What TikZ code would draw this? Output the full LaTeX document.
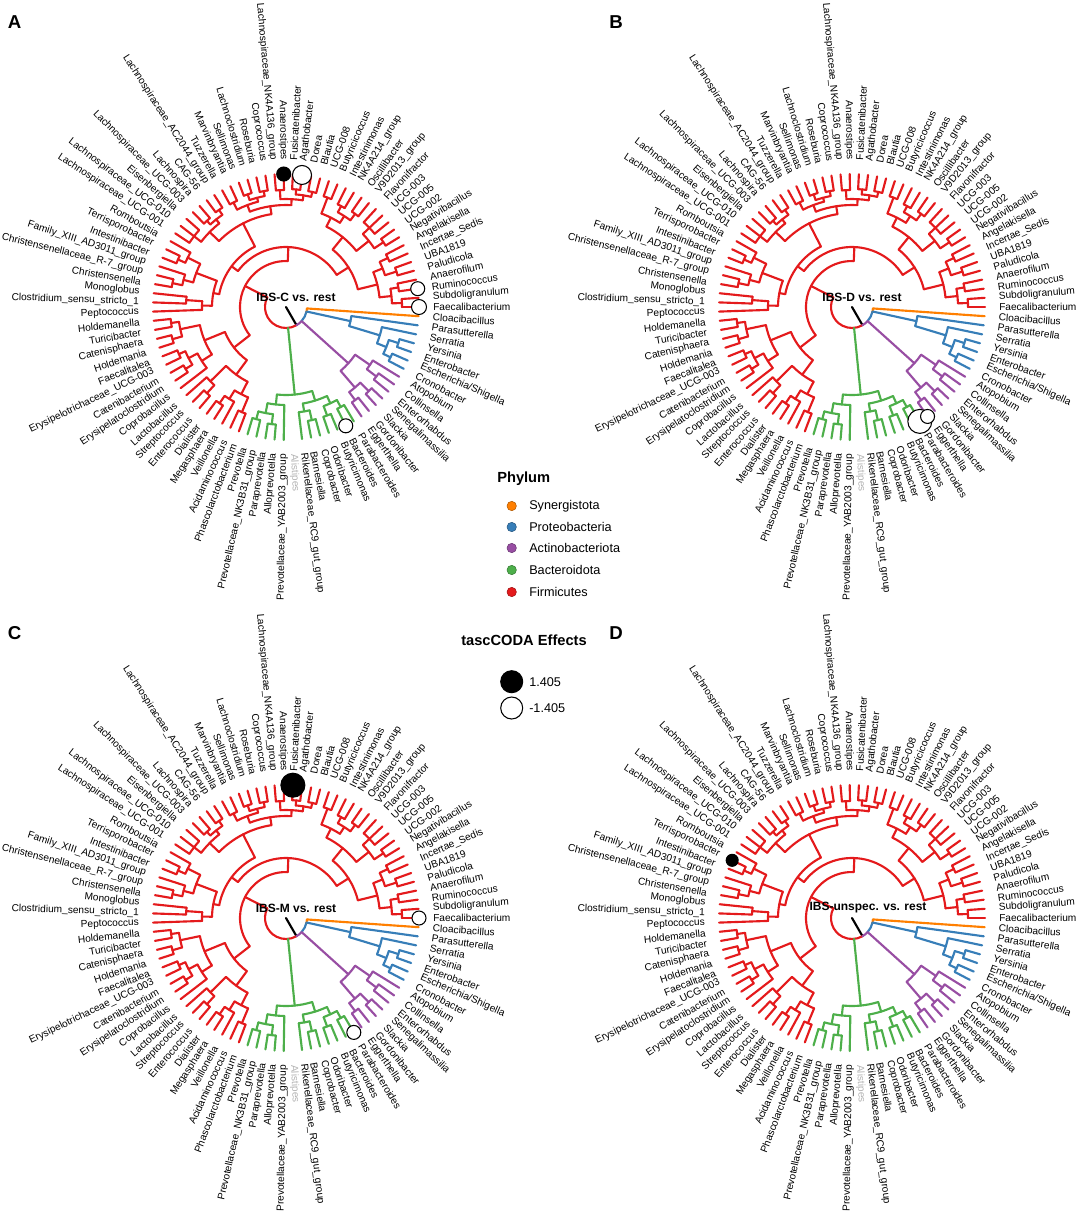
\documentclass[tikz,border=0pt]{standalone}
\usepackage{fontspec}
\setmainfont{Liberation Sans}
\definecolor{firmi}{HTML}{E41A1C}
\definecolor{bacte}{HTML}{4DAF4A}
\definecolor{actino}{HTML}{984EA3}
\definecolor{proteo}{HTML}{377EB8}
\definecolor{synerg}{HTML}{FF7F00}
\definecolor{nagrey}{HTML}{B3B3B3}
\tikzset{
  branch/.style={line width=1.6pt, line cap=round},
  leaflab/.style={font=\fontsize{7.6}{9}\selectfont, inner sep=0pt},
  centlab/.style={font=\bfseries\fontsize{9}{11}\selectfont, inner sep=0pt},
  paneltag/.style={font=\bfseries\fontsize{14}{16}\selectfont, inner sep=0pt},
  legtitle/.style={font=\bfseries\fontsize{11}{13}\selectfont, anchor=west, inner sep=0pt},
  legtext/.style={font=\fontsize{9.5}{11}\selectfont, anchor=west, inner sep=0pt},
  effpos/.style={draw=black, fill=black, line width=0.8pt},
  effneg/.style={draw=black, fill=white, line width=0.8pt}
}
% angle of one leaf
\newcommand{\dk}{3.956044}
% clade: colour, parent radius, node radius, first child, last child
\newcommand{\clade}[5]{%
  \draw[#1] ({(#4+#5)/2*\dk}:#2) -- ({(#4+#5)/2*\dk}:#3);
  \draw[#1] ({#4*\dk}:#3) arc[start angle={#4*\dk}, end angle={#5*\dk}, radius=#3];}
% leaf branch: colour, parent radius, leaf
\newcommand{\tip}[3]{\draw[#1] ({#3*\dk}:#2) -- ({#3*\dk}:133);}
% effect circle: style, leaf, size
\newcommand{\eff}[3]{\draw[#1] ({#2*\dk}:133) circle[radius=#3];}
\newcommand{\taxtree}[1]{%
  \begin{scope}[branch]
  % root
  \draw[black] (0,0) -- (300:21);
  \draw[firmi] ({38.640625*\dk}:21) arc[start angle={38.640625*\dk}, end angle=300, radius=21];
  \draw[actino] (300:21) arc[start angle=300, end angle={80.375*\dk}, radius=21];
  \draw[proteo] ({80.375*\dk}:21) arc[start angle={80.375*\dk}, end angle={87.875*\dk}, radius=21];
  \draw[synerg] ({87.875*\dk}:21) arc[start angle={87.875*\dk}, end angle={90*\dk}, radius=21];
  % Firmicutes
  \foreach \p/\n/\a/\b in {21/46/22.1875/55.09375, 46/60/8.1875/36.1875, 60/74/3.5/12.875,
      74/94/1.5/5.5, 94/106/0.5/2.5, 106/116/0/1, 106/114/2/3, 94/104/4.5/6.5, 104/116/4/5, 104/113/6/7,
      74/90/9.75/16, 90/106/8.5/11, 106/117/8/9, 106/115/10/12, 90/100/14.5/17.5, 100/108/13.5/15.5,
      108/116/13/14, 108/115/15/16, 100/117/17/18,
      60/68/29.625/42.75, 68/94/25/34.25, 94/102/22/28, 102/108/20.5/23.5, 108/113/19.5/21.5,
      113/118/19/20, 113/118/21/22, 108/117/23/24, 102/109/26.5/29.5, 109/113/25.5/27.5,
      113/118/25/26, 113/119/27/28, 109/117/29/30, 94/107/32.5/36, 107/112/31.5/33.5,
      112/118/31/32, 112/117/33/34, 107/116/35/37,
      68/74/40.25/45.25, 74/96/38.75/41.75, 96/110/38/39.5, 110/118/39/40, 96/106/41/42.5,
      106/116/42/43, 74/84/44.5/46, 84/100/44/45,
      46/66/51.125/59.0625, 66/88/48.5/53.75, 88/108/47.5/49.5, 108/116/47/48, 108/118/49/50,
      88/100/52.5/55, 100/110/51.5/53.5, 110/117/51/52, 110/118/53/54,
      66/84/56.75/61.375, 84/106/56/57.5, 106/117/57/58, 84/98/60.25/62.5, 98/108/59.5/61,
      108/117/59/60, 98/114/62/63}{\clade{firmi}{\p}{\n}{\a}{\b}}
  \foreach \k/\p in {0/116,1/116,2/114,3/114,4/116,5/116,6/113,7/113,8/117,9/117,10/115,11/115,
      12/115,13/116,14/116,15/115,16/115,17/117,18/117,19/118,20/118,21/118,22/118,23/117,24/117,
      25/118,26/118,27/119,28/119,29/117,30/117,31/118,32/118,33/117,34/117,35/116,36/116,37/116,
      38/110,39/118,40/118,41/106,42/116,43/116,44/100,45/100,46/84,47/116,48/116,49/118,50/118,
      51/117,52/117,53/118,54/118,55/100,56/106,57/117,58/117,59/117,60/117,61/108,62/114,63/114}{\tip{firmi}{\p}{\k}}
  % Bacteroidota
  \foreach \p/\n/\a/\b in {21/88/66.75/72.625, 88/98/65.5/68, 98/108/64.5/66.5, 108/116/64/65,
      108/118/66/67, 88/98/70.75/74.5, 98/106/70/71.5, 106/116/71/72, 98/106/73.5/75.5,
      106/116/73/74, 106/114/75/76}{\clade{bacte}{\p}{\n}{\a}{\b}}
  \foreach \k/\p in {64/116,65/116,66/118,67/118,68/98,70/106,71/116,72/116,73/116,74/116,
      75/114,76/114}{\tip{bacte}{\p}{\k}}
  % Actinobacteriota
  \foreach \p/\n/\a/\b in {21/84/78.5/82.25, 84/106/77.5/79.5, 106/116/77/78, 106/118/79/80,
      84/102/81.5/83, 102/114/81/82}{\clade{actino}{\p}{\n}{\a}{\b}}
  \foreach \k/\p in {77/116,78/116,79/118,80/118,81/114,82/114,83/102}{\tip{actino}{\p}{\k}}
  % Proteobacteria
  \foreach \p/\n/\a/\b in {21/66/86.75/89, 66/98/85.5/88, 98/108/84.5/86.5, 108/116/84/85,
      108/118/86/87}{\clade{proteo}{\p}{\n}{\a}{\b}}
  \foreach \k/\p in {84/116,85/116,86/118,87/118,88/98,89/66}{\tip{proteo}{\p}{\k}}
  % Synergistota
  \tip{synerg}{21}{90}
  \end{scope}
  % leaf labels
  \foreach \k/\nm in {0/Faecalibacterium, 1/Subdoligranulum, 2/Ruminococcus, 3/Anaerofilum,
      4/Paludicola, 5/UBA1819, 6/Incertae\_Sedis, 7/Angelakisella, 8/Negativibacillus, 9/UCG-002,
      10/UCG-005, 11/UCG-003, 12/Flavonifractor, 13/V9D2013\_group, 14/Oscillibacter,
      15/NK4A214\_group, 16/Intestinimonas, 17/Butyricicoccus, 18/UCG-008, 19/Blautia, 20/Dorea,
      21/Agathobacter, 22/Fusicatenibacter, 23/Anaerostipes, 24/Lachnospiraceae\_NK4A136\_group,
      25/Coprococcus, 26/Roseburia, 27/Lachnoclostridium, 28/Sellimonas, 29/Marvinbryantia,
      30/Tuzzerella, 31/Lachnospiraceae\_AC2044\_group, 32/CAG-56, 33/Lachnospira,
      34/Lachnospiraceae\_UCG-003, 35/Eisenbergiella, 36/Lachnospiraceae\_UCG-010,
      37/Lachnospiraceae\_UCG-001, 38/Romboutsia, 39/Terrisporobacter, 40/Intestinibacter,
      41/Family\_XIII\_AD3011\_group, 42/Christensenellaceae\_R-7\_group, 43/Christensenella,
      44/Monoglobus, 45/Clostridium\_sensu\_stricto\_1, 46/Peptococcus, 47/Holdemanella,
      48/Turicibacter, 49/Catenisphaera, 50/Holdemania, 51/Faecalitalea,
      52/Erysipelotrichaceae\_UCG-003, 53/Catenibacterium, 54/Erysipelatoclostridium,
      55/Coprobacillus, 56/Lactobacillus, 57/Streptococcus, 58/Enterococcus, 59/Dialister,
      60/Megasphaera, 61/Veillonella, 62/Acidaminococcus, 63/Phascolarctobacterium,
      64/Prevotella, 65/Prevotellaceae\_NK3B31\_group, 66/Paraprevotella, 67/Alloprevotella,
      68/Prevotellaceae\_YAB2003\_group, 70/Rikenellaceae\_RC9\_gut\_group, 71/Barnesiella,
      72/Coprobacter, 73/Odoribacter, 74/Butyricimonas, 75/Bacteroides, 76/Parabacteroides,
      77/Eggerthella, 78/Gordonibacter, 79/Slackia, 80/Senegalimassilia, 81/Enterorhabdus,
      82/Collinsella, 83/Atopobium, 84/Cronobacter, 85/Escherichia\slash Shigella,
      86/Enterobacter, 87/Yersinia, 88/Serratia, 89/Parasutterella, 90/Cloacibacillus}{%
    \pgfmathsetmacro\ang{\k*\dk}
    \pgfmathtruncatemacro\flip{and(\ang>90,\ang<270)}
    \ifnum\flip=1
      \node[leaflab, anchor=east, rotate=\ang-180] (#1-\k) at (\ang:147) {\nm};
    \else
      \node[leaflab, anchor=west, rotate=\ang] (#1-\k) at (\ang:147) {\nm};
    \fi}
  \node[leaflab, anchor=west, text=nagrey, rotate=69*\dk] (#1-69) at ({69*\dk}:147) {Alistipes};
}

\begin{document}
\begin{tikzpicture}[x=0.75pt, y=0.75pt]
\useasboundingbox (0,0) rectangle (1079,-1225);

% panel A
\node[paneltag] (tagA) at (14.7,-21.7) {A};
\begin{scope}[shift={(286,-307)}]
  \taxtree{a}
  \node[centlab] (a-title) at (10,10) {IBS-C vs. rest};
  \eff{effpos}{23}{7}
  \eff{effneg}{21}{9.5}
  \eff{effneg}{2}{7}
  \eff{effneg}{0}{7.5}
  \eff{effneg}{75}{7}
\end{scope}

% panel B
\node[paneltag] (tagB) at (616,-21.7) {B};
\begin{scope}[shift={(852,-307)}]
  \taxtree{b}
  \node[centlab] (b-title) at (10,10) {IBS-D vs. rest};
  \eff{effneg}{76}{12}
  \eff{effneg}{77}{7}
\end{scope}

% panel C
\node[paneltag] (tagC) at (14.7,-632.7) {C};
\begin{scope}[shift={(286,-918)}]
  \taxtree{c}
  \node[centlab] (c-title) at (10,10) {IBS-M vs. rest};
  \eff{effpos}{22}{12}
  \eff{effneg}{0}{7}
  \eff{effneg}{76}{7}
\end{scope}

% panel D
\node[paneltag] (tagD) at (616,-632.7) {D};
\begin{scope}[shift={(852,-918)}]
  \taxtree{d}
  \node[centlab] (d-title) at (16,10) {IBS-unspec. vs. rest};
  \eff{effpos}{39}{6}
\end{scope}

% legend
\node[legtitle] (phylum) at (497,-479) {Phylum};
\foreach \c/\nm/\y in {synerg/Synergistota/506, proteo/Proteobacteria/527,
    actino/Actinobacteriota/548, bacte/Bacteroidota/570, firmi/Firmicutes/592}{
  \draw[fill=\c, draw=\c!70!black, line width=0.4pt] (511.7,-\y) circle[radius=4.7];
  \node[legtext] (leg-\c) at (529,-\y) {\nm};
}
\node[legtitle] (effects) at (461,-640) {tascCODA Effects};
\draw[effpos] (511.7,-681.7) circle[radius=11];
\node[legtext] (eff-pos) at (529,-681.7) {1.405};
\draw[effneg] (511.7,-708) circle[radius=11];
\node[legtext] (eff-neg) at (529,-708) {-1.405};
\end{tikzpicture}
\end{document}
